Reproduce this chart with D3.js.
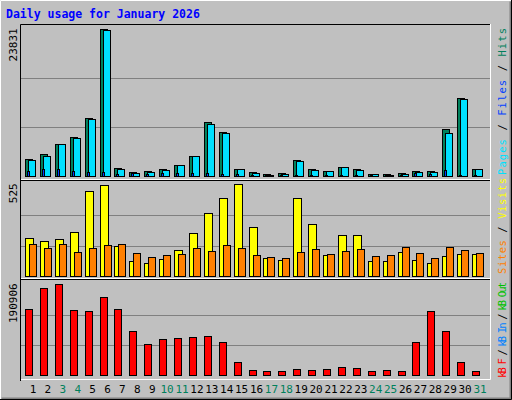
<!DOCTYPE html>
<html lang="en">
<head>
<meta charset="UTF-8">
<title>Daily usage</title>
<style>
  body { margin: 0; padding: 0; background: #fff; }
  svg text { font-family: "DejaVu Sans Mono", monospace; }
</style>
</head>
<body>
<svg id="chart" width="512" height="400"></svg>
<script src="https://d3js.org/d3.v7.min.js"></script>
<script>
// data
const days = d3.range(1, 32);
const weekend = [3, 4, 10, 11, 17, 18, 24, 25, 31];
const hits  = [2708,3520,5200,6283,9370,23831,1246,596,758,1083,1733,3195,8720,7095,1083,596,271,433,2546,1083,758,1462,1083,271,271,433,758,758,7582,12620,1083];
const files = [2546,3195,5200,6120,9207,23668,1083,433,596,921,1733,3195,8395,6932,1083,433,108,271,2383,921,758,1462,921,271,108,271,596,596,6932,12457,1083];
const pages = [812,1083,1083,812,650,650,271,433,271,433,433,433,433,271,271,160,108,108,160,160,160,160,160,108,108,160,433,271,921,160,160];
const visits = [218,201,212,252,485,519,172,87,76,99,150,246,360,445,525,280,104,93,445,298,121,235,235,87,87,138,93,76,116,127,127];
const sites  = [184,161,184,138,161,178,184,133,110,121,127,161,144,178,161,121,110,104,138,155,127,144,155,116,121,167,133,104,167,150,133];
const kbytes = [138647,182540,190906,136560,134470,163730,138647,92665,65492,75943,78033,80123,82214,69673,27869,11147,9057,9057,13238,11147,13238,17418,15328,9057,11147,9057,69673,134470,92665,27869,9057];

const svg = d3.select("#chart");

// background and outer 3D border
svg.append("rect").attr("width", 512).attr("height", 400).attr("fill", "#C0C0C0");
svg.append("path").attr("d", "M0.5,399.5V0.5H511.5").attr("stroke", "#fff").attr("fill", "none");
svg.append("path").attr("d", "M1.5,398.5H510.5V1.5").attr("stroke", "#808080").attr("fill", "none").attr("stroke-width", 2);
svg.append("path").attr("d", "M511.5,0V399.5H0").attr("stroke", "#000").attr("fill", "none");

svg.append("text").attr("x", 6).attr("y", 18)
  .attr("fill", "#0000FF").attr("font-size", 11.5).attr("font-weight", "bold")
  .text("Daily usage for January 2026");

const left = 21, right = 490;
const x = d3.scaleLinear().domain([1, 31]).range([33, 480]);

// panel geometry
const panels = [
  { top: 25, base: 176, max: 29.3, label: "23831", vmax: 23831 },
  { top: 180.5, base: 276.7, max: 184.3, label: "525", vmax: 525 },
  { top: 279.5, base: 375.7, max: 284.3, label: "190906", vmax: 190906 }
];

panels.forEach(p => {
  p.y = d3.scaleLinear().domain([0, p.vmax]).range([p.base, p.max]);
  const h = p.base - p.max;
  [1, 2].forEach(i => {
    svg.append("line").attr("x1", left).attr("x2", right)
      .attr("y1", Math.round(p.base - h * i / 3) + 0.5).attr("y2", Math.round(p.base - h * i / 3) + 0.5)
      .attr("stroke", "#808080");
  });
  svg.append("text")
    .attr("transform", `translate(17,${p.max - 1}) rotate(-90)`)
    .attr("text-anchor", "end").attr("font-size", 11).attr("fill", "#000")
    .text(p.label);
});

// plot frame
svg.append("path").attr("d", `M${left - 0.5},381V24.5H${right}`).attr("stroke", "#000").attr("fill", "none");
svg.append("path").attr("d", `M${right + 0.5},24V379.5H${left}`).attr("stroke", "#fff").attr("fill", "none");
[180, 279].forEach(yy => {
  svg.append("line").attr("x1", left).attr("x2", right).attr("y1", yy + 0.5).attr("y2", yy + 0.5).attr("stroke", "#000");
  svg.append("line").attr("x1", left).attr("x2", right).attr("y1", yy - 0.5).attr("y2", yy - 0.5).attr("stroke", "#fff");
});

function bars(data, panel, dx, w, color) {
  svg.append("g").selectAll("rect").data(data).join("rect")
    .attr("x", (d, i) => Math.round(x(days[i]) + dx) + 0.5)
    .attr("y", d => Math.round(panel.y(d)) + 0.5)
    .attr("width", w)
    .attr("height", d => Math.max(1, Math.round(panel.base - panel.y(d))))
    .attr("fill", color).attr("stroke", "#000").attr("stroke-width", 1);
}

bars(hits, panels[0], -8, 7, "#00805C");
bars(files, panels[0], -5, 7, "#00E0FF");
bars(pages, panels[0], -6, 2, "#0040FF");
bars(visits, panels[1], -8, 8, "#FFFF00");
bars(sites, panels[1], -4, 7, "#FF8000");
bars(kbytes, panels[2], -8, 7, "#FF0000");

// day labels
svg.append("g").selectAll("text").data(days).join("text")
  .attr("x", d => x(d)).attr("y", 393)
  .attr("text-anchor", "middle").attr("font-size", 11)
  .attr("fill", d => weekend.includes(d) ? "#00805C" : "#000")
  .text(d => d);

// right-side legends, rotated, stretched to the reference length
function legend(yBottom, len, parts) {
  const t = svg.append("text")
    .attr("transform", `translate(506,${yBottom}) rotate(-90)`)
    .attr("font-size", 10.5)
    .attr("textLength", len).attr("lengthAdjust", "spacing");
  parts.forEach(([s, c]) => t.append("tspan").attr("fill", c).text(s));
}
legend(175, 147, [["Pages", "#00E0FF"], [" / ", "#000"], ["Files", "#0040FF"], [" / ", "#000"], ["Hits", "#00805C"]]);
legend(274, 96, [["Sites", "#FF8000"], [" / ", "#000"], ["Visits", "#FFFF00"]]);
legend(378, 96, [["kB F", "#FF0000"], [" / ", "#000"], ["kB In", "#0080FF"], [" / ", "#000"], ["kB Out", "#00C000"]]);
</script>
</body>
</html>
